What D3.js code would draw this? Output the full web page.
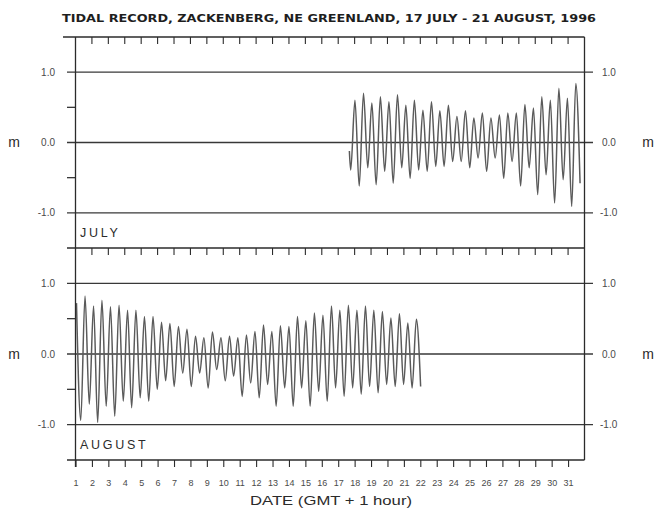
<!DOCTYPE html>
<html>
<head>
<meta charset="utf-8">
<script src="https://cdn.jsdelivr.net/npm/d3@7"></script>
<style>
  body { margin: 0; background: #fff; }
  svg { display: block; }
</style>
</head>
<body>
<svg id="chart" width="655" height="509"></svg>
<script>
// Tide turning points (day of month, water level in metres)
const julyDays = [17.68, 17.76, 18.02, 18.28, 18.54, 18.80, 19.05, 19.31, 19.57, 19.83, 20.09,
  20.35, 20.61, 20.87, 21.12, 21.38, 21.64, 21.90, 22.16, 22.42, 22.68,
  22.94, 23.19, 23.45, 23.71, 23.97, 24.23, 24.49, 24.75, 25.01, 25.26,
  25.52, 25.78, 26.04, 26.30, 26.56, 26.82, 27.08, 27.33, 27.59, 27.85,
  28.11, 28.37, 28.63, 28.89, 29.15, 29.40, 29.66, 29.92, 30.18, 30.44,
  30.70, 30.96, 31.22, 31.47, 31.73];
const julyLevel = [-0.12, -0.39, 0.60, -0.62, 0.70, -0.36, 0.56, -0.60, 0.65, -0.41, 0.58,
  -0.58, 0.68, -0.36, 0.53, -0.51, 0.60, -0.39, 0.46, -0.41, 0.58,
  -0.34, 0.45, -0.34, 0.53, -0.27, 0.37, -0.27, 0.45, -0.36, 0.35,
  -0.22, 0.42, -0.41, 0.35, -0.22, 0.39, -0.51, 0.42, -0.27, 0.42,
  -0.62, 0.54, -0.36, 0.49, -0.74, 0.65, -0.46, 0.60, -0.86, 0.77,
  -0.53, 0.63, -0.91, 0.84, -0.58];

const augustDays = [1.06, 1.32, 1.58, 1.84, 2.10, 2.35, 2.61, 2.87, 3.13, 3.39,
  3.65, 3.91, 4.17, 4.42, 4.68, 4.94, 5.20, 5.46, 5.72, 5.98,
  6.24, 6.49, 6.75, 7.01, 7.27, 7.53, 7.79, 8.05, 8.31, 8.56,
  8.82, 9.08, 9.34, 9.60, 9.86, 10.12, 10.38, 10.63, 10.89, 11.15,
  11.41, 11.67, 11.93, 12.19, 12.45, 12.70, 12.96, 13.22, 13.48, 13.74,
  14.00, 14.26, 14.52, 14.77, 15.03, 15.29, 15.55, 15.81, 16.07, 16.33,
  16.59, 16.84, 17.10, 17.36, 17.62, 17.88, 18.14, 18.40, 18.66, 18.91,
  19.17, 19.43, 19.69, 19.95, 20.21, 20.47, 20.73, 20.98, 21.24, 21.50,
  21.76, 22.02];
const augustLevel = [0.72, -0.94, 0.82, -0.71, 0.68, -0.97, 0.76, -0.74, 0.67, -0.88,
  0.69, -0.67, 0.62, -0.76, 0.62, -0.62, 0.53, -0.67, 0.53, -0.50,
  0.45, -0.38, 0.43, -0.46, 0.39, -0.27, 0.35, -0.46, 0.25, -0.27,
  0.23, -0.48, 0.31, -0.22, 0.23, -0.38, 0.25, -0.31, 0.23, -0.60,
  0.27, -0.41, 0.32, -0.62, 0.41, -0.43, 0.32, -0.74, 0.40, -0.48,
  0.39, -0.74, 0.53, -0.48, 0.47, -0.74, 0.58, -0.53, 0.55, -0.67,
  0.68, -0.48, 0.62, -0.60, 0.69, -0.48, 0.62, -0.57, 0.68, -0.46,
  0.62, -0.55, 0.60, -0.43, 0.51, -0.46, 0.57, -0.43, 0.44, -0.48,
  0.49, -0.46];

const monthNames = ["JULY", "AUGUST"];
const dayLabels = [1, 2, 3, 4, 5, 6, 7, 8, 9, 10, 11, 12, 13, 14, 15, 16,
  17, 18, 19, 20, 21, 22, 23, 24, 25, 26, 27, 28, 29, 30, 31];
const levelTicks = [-1, 0, 1];
const levelLabels = ["-1.0", "0.0", "1.0"];
const minorTicks = [-0.5, 0.5];

const titleText = "TIDAL RECORD, ZACKENBERG, NE GREENLAND, 17 JULY - 21 AUGUST, 1996";
const axisTitle = "DATE (GMT + 1 hour)";

const svg = d3.select("#chart");
const ink = "#2b2b2b";
const FONT = "'Liberation Sans', Arial, sans-serif";

const x = d3.scaleLinear().domain([1, 32]).range([75.5, 584.5]);
const [xl, xr] = x.range();

const panels = [
  { name: monthNames[0], top: 37, bottom: 248,
    data: julyDays.map((d, i) => [d, julyLevel[i]]) },
  { name: monthNames[1], top: 248, bottom: 460,
    data: augustDays.map((d, i) => [d, augustLevel[i]]) }
];

// Title
svg.append("text")
  .attr("x", 62).attr("y", 22)
  .attr("textLength", 534).attr("lengthAdjust", "spacingAndGlyphs")
  .attr("font-family", "'DejaVu Sans', sans-serif")
  .attr("font-weight", "bold").attr("font-size", 10.5)
  .attr("fill", "#1e1e1e")
  .text(titleText);

svg.append("defs").selectAll("clipPath").data(panels).join("clipPath")
  .attr("id", (d, i) => "clip" + i)
  .append("rect")
  .attr("x", xl).attr("y", d => d.top)
  .attr("width", xr - xl).attr("height", d => d.bottom - d.top);

panels.forEach((p, i) => {
  const y = d3.scaleLinear().domain([-1.5, 1.5]).range([p.bottom, p.top]);
  const g = svg.append("g");

  // level lines running through the panel and out past both frames
  g.selectAll("line.grid").data(levelTicks).join("line")
    .attr("x1", 67).attr("x2", 593)
    .attr("y1", d => y(d)).attr("y2", d => y(d))
    .attr("stroke", "#383838").attr("stroke-width", 1.3);

  // half-metre ticks, left side only
  g.selectAll("line.minor").data(minorTicks).join("line")
    .attr("x1", 67).attr("x2", xl)
    .attr("y1", d => y(d)).attr("y2", d => y(d))
    .attr("stroke", "#383838").attr("stroke-width", 1.3);

  g.selectAll("text.ll").data(levelTicks).join("text")
    .attr("x", 55).attr("y", d => y(d)).attr("dy", "0.36em")
    .attr("text-anchor", "end")
    .attr("font-family", FONT).attr("font-size", 10).attr("fill", "#4a4a4a")
    .text((d, k) => levelLabels[k]);

  g.selectAll("text.rl").data(levelTicks).join("text")
    .attr("x", d => d < 0 ? 600 : 602).attr("y", d => y(d)).attr("dy", "0.36em")
    .attr("font-family", FONT).attr("font-size", 10).attr("fill", "#4a4a4a")
    .text((d, k) => levelLabels[k]);

  g.append("text").attr("x", 14).attr("y", y(0)).attr("dy", "0.35em")
    .attr("text-anchor", "middle")
    .attr("font-family", FONT).attr("font-size", 14).attr("fill", ink)
    .text("m");
  g.append("text").attr("x", 648).attr("y", y(0)).attr("dy", "0.35em")
    .attr("text-anchor", "middle")
    .attr("font-family", FONT).attr("font-size", 14).attr("fill", ink)
    .text("m");

  // water level trace
  const line = d3.line()
    .x(d => x(d[0])).y(d => y(d[1]))
    .curve(d3.curveMonotoneX);
  g.append("path")
    .datum(p.data)
    .attr("clip-path", `url(#clip${i})`)
    .attr("d", line)
    .attr("fill", "none")
    .attr("stroke", "#5a5a5a").attr("stroke-width", 1.5);

  // day ticks hanging from the panel's top edge
  g.selectAll("line.dt").data(dayLabels.slice(1)).join("line")
    .attr("x1", d => x(d)).attr("x2", d => x(d))
    .attr("y1", p.top).attr("y2", p.top + 7)
    .attr("stroke", ink).attr("stroke-width", 1.1);

  g.append("text")
    .attr("x", 80).attr("y", p.bottom - 11)
    .attr("font-family", FONT).attr("font-size", 12.5)
    .attr("letter-spacing", "2.7px")
    .attr("fill", ink)
    .text(p.name);
});

// Frame
const frame = svg.append("g").attr("stroke", ink).attr("stroke-width", 1.3);
frame.append("line").attr("x1", 63).attr("x2", xr).attr("y1", 37).attr("y2", 37);
frame.append("line").attr("x1", 67).attr("x2", xr).attr("y1", 248).attr("y2", 248);
frame.append("line").attr("x1", 67).attr("x2", xr).attr("y1", 460).attr("y2", 460);
frame.append("line").attr("x1", xl).attr("x2", xl).attr("y1", 37).attr("y2", 467);
frame.append("line").attr("x1", xr).attr("x2", xr).attr("y1", 37).attr("y2", 460);

// Date axis under the lower panel
const xAxis = d3.axisBottom(x).tickValues(dayLabels).tickSize(7).tickPadding(13)
  .tickFormat(d3.format("d"));
const ax = svg.append("g").attr("transform", "translate(0,460)").call(xAxis);
ax.select(".domain").remove();
ax.selectAll(".tick line").attr("stroke", ink).attr("stroke-width", 1.1);
ax.selectAll(".tick text")
  .attr("font-family", FONT).attr("font-size", 9).attr("fill", "#4a4a4a");

svg.append("text")
  .attr("x", 250).attr("y", 505)
  .attr("textLength", 162).attr("lengthAdjust", "spacingAndGlyphs")
  .attr("font-family", FONT).attr("font-size", 13).attr("fill", ink)
  .text(axisTitle);
</script>
</body>
</html>
